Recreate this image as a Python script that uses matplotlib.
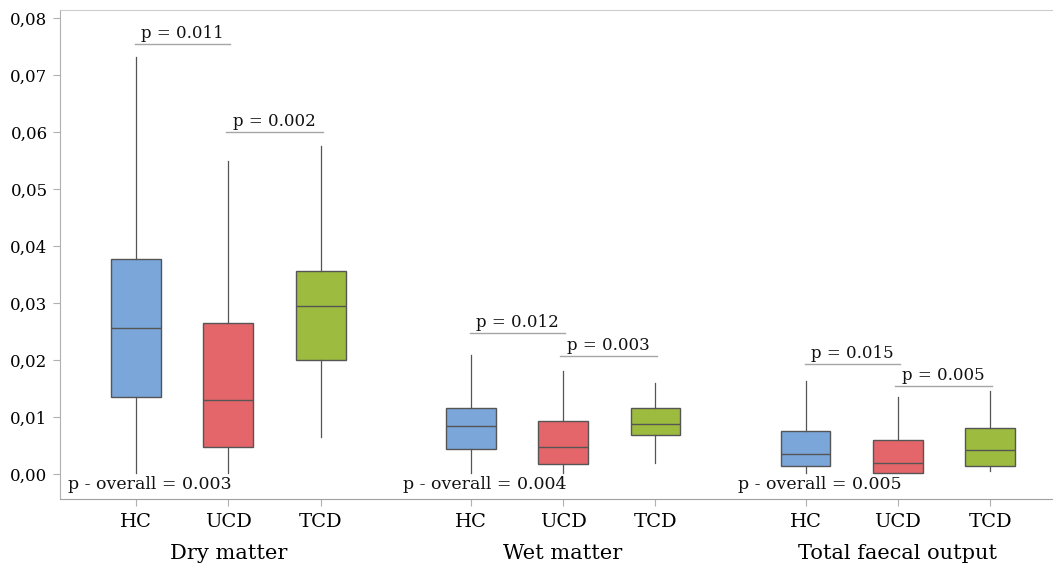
import matplotlib
matplotlib.use("Agg")
import matplotlib.pyplot as plt
from matplotlib.ticker import FuncFormatter

plt.rcParams['font.family'] = ['DejaVu Serif']

# Categories
groups = ["Dry matter", "Wet matter", "Total faecal output"]
cohorts = ["HC", "UCD", "TCD"]
colors = ["#7aa6d9", "#e5666a", "#9dbb3e"]

# Box statistics per group, in cohort order: (whislo, q1, med, q3, whishi)
dry_matter = [
    (0.0002, 0.0135, 0.0256, 0.0377, 0.0732),
    (0.0002, 0.0047, 0.0130, 0.0265, 0.0549),
    (0.0065, 0.0200, 0.0295, 0.0356, 0.0575),
]
wet_matter = [
    (0.0002, 0.0044, 0.0084, 0.0116, 0.0209),
    (0.0002, 0.0018, 0.0047, 0.0093, 0.0181),
    (0.0019, 0.0068, 0.0088, 0.0116, 0.0160),
]
total_output = [
    (0.0002, 0.0014, 0.0035, 0.0075, 0.0163),
    (0.0002, 0.0002, 0.0019, 0.0060, 0.0135),
    (0.0005, 0.0014, 0.0042, 0.0081, 0.0146),
]

# Pairwise p-values (HC vs UCD, UCD vs TCD) and overall p-values
pair_p = [("0.011", "0.002"), ("0.012", "0.003"), ("0.015", "0.005")]
pair_bracket_y = [(0.0754, 0.0600), (0.0247, 0.0207), (0.0193, 0.0154)]
overall_p = ["0.003", "0.004", "0.005"]

yticks = [0.00, 0.01, 0.02, 0.03, 0.04, 0.05, 0.06, 0.07, 0.08]

group_step = 3.625
box_w = 0.54

fig = plt.figure(figsize=(10.53, 5.67), dpi=100)
ax = fig.add_axes([60 / 1053, 1 - 499 / 567, 1 - 60 / 1053, (499 - 10) / 567])

all_data = [dry_matter, wet_matter, total_output]
positions = []
for g, data in enumerate(all_data):
    for j, (lo, q1, med, q3, hi) in enumerate(data):
        pos = g * group_step + j
        positions.append(pos)
        stats = [dict(whislo=lo, q1=q1, med=med, q3=q3, whishi=hi, fliers=[])]
        ax.bxp(stats, positions=[pos], widths=box_w, patch_artist=True,
               showcaps=False, showfliers=False,
               boxprops=dict(facecolor=colors[j], edgecolor="#555555", linewidth=1.0),
               medianprops=dict(color="#555555", linewidth=1.0),
               whiskerprops=dict(color="#555555", linewidth=0.9))

# Significance brackets and p-value labels
bracket_color = "#a6a6a6"
for g in range(3):
    x0 = g * group_step
    pairs = [(x0 - 0.01, x0 + 1.02), (x0 + 0.97, x0 + 2.02)]
    for (xa, xb), yb, p in zip(pairs, pair_bracket_y[g], pair_p[g]):
        ax.plot([xa, xb], [yb, yb], color=bracket_color, linewidth=1.0)
        ax.text((xa + xb) / 2, yb + 0.0003, f"p = {p}", ha="center", va="bottom",
                fontsize=12, color="#111111")
    ax.text(x0 + 0.15, -0.0019, f"p - overall = {overall_p[g]}", ha="center",
            va="center", fontsize=12.5, color="#111111")

ax.set_xlim(-0.823, 9.93)
ax.set_ylim(-0.0044, 0.0814)
ax.set_yticks(yticks)
ax.yaxis.set_major_formatter(FuncFormatter(lambda v, _: f"{v:.2f}".replace(".", ",")))
ax.set_xticks(positions)
ax.set_xticklabels(cohorts * 3)

ax.spines["right"].set_visible(False)
ax.spines["top"].set_color("#cccccc")
ax.spines["left"].set_color("#b0b0b0")
ax.spines["bottom"].set_color("#a0a0a0")
ax.tick_params(axis="y", labelsize=12, color="#b0b0b0", length=5, pad=4)
ax.tick_params(axis="x", labelsize=14, color="#b0b0b0", length=5, pad=5)

for g, name in enumerate(groups):
    ax.text(g * group_step + 1, -0.0140, name, ha="center", va="center", fontsize=15)

fig.savefig("out.png", dpi=100)
